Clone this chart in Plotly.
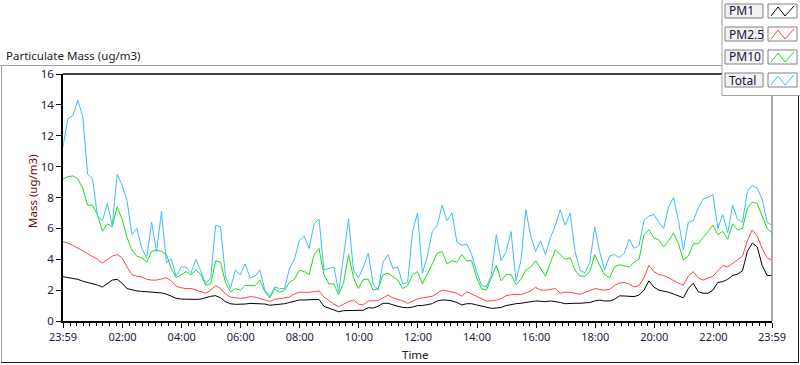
import pandas as pd
import plotly.graph_objects as go

# ---------------- data (10-minute readings, 23:59 -> 23:59) ----------------
pm1 = [2.87, 2.82, 2.76, 2.7, 2.58, 2.5, 2.42, 2.33, 2.2, 2.4, 2.65, 2.7, 2.45, 2.1, 2.0, 1.95, 1.92, 1.9, 1.88, 1.84,
       1.82, 1.74, 1.6, 1.47, 1.42, 1.4, 1.4, 1.4, 1.42, 1.52, 1.6, 1.64, 1.5, 1.25, 1.12, 1.08, 1.08,
       1.1, 1.14, 1.12, 1.14, 1.1, 1.02, 1.05, 1.12, 1.12, 1.2, 1.3, 1.36, 1.36, 1.36, 1.38, 1.4, 0.95, 0.82, 0.68,
       0.6, 0.67, 0.68, 0.69, 0.68, 0.7, 0.86, 0.84, 0.95, 1.15, 1.15, 1.04, 0.95, 0.88, 0.86, 0.9, 1.0,
       1.0, 1.08, 1.12, 1.3, 1.36, 1.35, 1.3, 1.2, 1.04, 1.12, 1.12, 1.04, 0.95, 0.88, 0.82, 0.84, 0.88, 1.0,
       1.08, 1.12, 1.15, 1.2, 1.25, 1.3, 1.28, 1.25, 1.3, 1.27, 1.2, 1.12, 1.15, 1.15, 1.15, 1.18, 1.2, 1.3,
       1.35, 1.3, 1.3, 1.4, 1.63, 1.62, 1.58, 1.58, 1.68, 2.0, 2.6, 2.2, 2.0, 1.95, 1.86, 1.75, 1.6, 1.5, 2.1,
       2.45, 1.9, 1.8, 1.8, 2.0, 2.5, 2.55, 2.7, 2.95, 3.03, 3.25, 4.5, 5.05, 4.8, 3.6, 2.95, 2.95]

pm25 = [5.14, 5.05, 4.9, 4.75, 4.55, 4.35, 4.2, 4.0, 3.75, 3.95, 4.2, 4.3, 4.1, 3.5, 3.0, 2.9, 2.85, 2.7, 2.65, 2.65,
        2.75, 2.8, 2.6, 2.25, 2.15, 2.1, 2.1, 2.0, 1.85, 1.8, 2.0, 2.3, 2.1, 1.75, 1.55, 1.5, 1.47,
        1.5, 1.58, 1.55, 1.47, 1.35, 1.27, 1.4, 1.47, 1.5, 1.55, 1.75, 1.86, 1.85, 1.86, 1.9, 1.95, 1.55, 1.3, 1.1,
        0.93, 1.1, 1.25, 1.36, 1.1, 1.04, 1.3, 1.3, 1.33, 1.5, 1.68, 1.5, 1.4, 1.3, 1.14, 1.3, 1.43,
        1.5, 1.55, 1.6, 1.8, 2.0, 1.95, 1.86, 1.8, 1.6, 1.9, 1.75, 1.6, 1.45, 1.3, 1.3, 1.35, 1.45, 1.64,
        1.7, 1.73, 1.7, 1.85, 1.95, 2.18, 2.0, 2.0, 2.05, 2.1, 1.8, 1.86, 1.86, 1.8, 1.73, 1.85, 2.0, 2.1,
        2.05, 2.0, 2.05, 2.3, 2.45, 2.5, 2.4, 2.2, 2.3, 2.8, 3.6, 3.2, 3.0, 2.95, 2.8, 2.6, 2.45, 2.33, 2.9,
        3.2, 2.8, 2.65, 2.75, 2.9, 3.25, 3.6, 3.5, 3.75, 4.0, 4.2, 5.2, 5.9, 5.5, 4.7, 4.1, 3.95]

pm10 = [9.2, 9.35, 9.4, 9.2, 8.6, 7.5, 7.5, 6.9, 5.8, 6.3, 6.1, 7.4, 6.6, 5.4, 4.6, 4.2, 4.1, 3.8, 4.5, 4.6,
        4.5, 4.3, 3.4, 2.8, 3.0, 3.2, 3.0, 3.3, 3.0, 2.3, 2.4, 3.9, 3.8, 2.5, 1.9, 2.1, 2.0,
        2.3, 2.3, 2.3, 2.65, 1.9, 1.5, 2.1, 1.85, 2.0, 2.5, 2.7, 3.3, 3.2, 3.0, 4.3, 4.7, 3.0, 2.4, 2.4,
        1.7, 2.5, 4.3, 2.8, 2.1, 2.7, 2.7, 2.0, 2.1, 3.0, 3.1, 2.9, 2.65, 2.1, 2.3, 3.0, 3.2,
        2.4, 3.0, 3.7, 4.4, 4.5, 3.7, 3.9, 3.8, 4.3, 3.9, 3.9, 2.8, 2.1, 2.0, 2.8, 3.6, 2.6, 3.0,
        3.0, 2.35, 2.7, 3.3, 3.5, 3.9, 3.4, 2.9, 3.8, 4.6, 4.3, 4.0, 4.1, 3.3, 2.9, 2.9, 3.2, 4.3,
        3.6, 3.0, 2.8, 3.5, 3.65, 3.6, 3.5, 3.8, 4.0, 5.6, 5.9, 5.4, 5.25, 4.8, 5.2, 5.7, 5.0, 3.95, 4.2,
        5.0, 5.0, 5.4, 5.8, 6.2, 5.6, 5.8, 5.3, 6.3, 5.9, 6.0, 7.3, 7.7, 7.6, 6.8, 6.0, 5.7]

total = [11.3, 13.1, 13.3, 14.3, 13.3, 9.5, 9.2, 6.8, 6.5, 7.6, 6.2, 9.5, 8.8, 7.8, 5.6, 6.0, 4.7, 4.1, 6.4, 4.5,
         7.1, 3.8, 4.0, 2.9, 3.5, 3.5, 3.1, 4.0, 3.2, 2.4, 2.8, 6.2, 6.1, 2.9, 2.1, 3.3, 3.0,
         3.7, 2.8, 2.9, 3.3, 2.0, 1.6, 2.2, 2.1, 2.1, 3.4, 4.0, 5.2, 5.5, 4.7, 6.3, 6.6, 3.3, 3.4, 3.5,
         1.9, 4.1, 6.6, 3.3, 2.8, 3.5, 4.4, 2.4, 2.0, 3.8, 4.3, 3.4, 3.5, 2.4, 2.5, 5.8, 7.0,
         3.1, 4.2, 5.8, 6.2, 7.5, 6.5, 7.0, 5.1, 4.9, 5.0, 4.3, 3.2, 2.3, 2.2, 3.0, 5.6, 3.9, 4.5,
         5.8, 2.6, 3.9, 7.2, 5.5, 4.5, 5.2, 4.3, 5.4, 6.2, 7.2, 6.2, 7.0, 4.5, 3.3, 3.1, 3.8, 6.1,
         4.5, 3.3, 4.2, 4.3, 4.1, 4.4, 5.3, 4.7, 4.9, 6.5, 6.8, 6.9, 6.4, 6.0, 7.4, 8.0, 6.5, 4.6, 6.4,
         6.5, 7.3, 7.9, 8.0, 8.2, 6.0, 6.9, 5.7, 7.5, 6.6, 6.4, 8.4, 8.8, 8.6, 7.9, 6.4, 6.2]

series_names = ["PM1", "PM2.5", "PM10", "Total"]
series_colors = ["#000000", "#ff4444", "#16e016", "#3dbcff"]
tick_labels = ["23:59", "02:00", "04:00", "06:00", "08:00", "10:00", "12:00",
               "14:00", "16:00", "18:00", "20:00", "22:00", "23:59"]

start = pd.Timestamp("2024-01-01 23:59")
end = pd.Timestamp("2024-01-02 23:59")
times = pd.date_range(start, periods=len(pm1), freq="10min")
tick_vals = [start] + [pd.Timestamp("2024-01-02") + pd.Timedelta(hours=h) for h in range(2, 24, 2)] + [end]

# ---------------- geometry helpers (pixel -> paper) ----------------
W, H = 800, 365
L, R, T, B = 63, 772, 74, 321
def px(x):
    return (x - L) / (R - L)
def py(y):
    return (B - y) / (B - T)

FONT = "Noto Sans, Open Sans, Arial, sans-serif"
TICKCOL = "#1a1a40"

fig = go.Figure()
for name, col, vals in zip(series_names, series_colors, [pm1, pm25, pm10, total]):
    fig.add_trace(go.Scatter(x=times, y=vals, mode="lines", name=name,
                             line=dict(color=col, width=1), showlegend=False))

shapes = []
def line(x0, y0, x1, y1, color, width=1):
    shapes.append(dict(type="line", xref="paper", yref="paper",
                       x0=px(x0), y0=py(y0), x1=px(x1), y1=py(y1),
                       line=dict(color=color, width=width), layer="above"))
def rect(x0, y0, x1, y1, fill, border, width=1):
    shapes.append(dict(type="rect", xref="paper", yref="paper",
                       x0=px(x0), y0=py(y0), x1=px(x1), y1=py(y1),
                       fillcolor=fill, line=dict(color=border, width=width), layer="above"))

# outer frame
line(0, 65.5, 722, 65.5, "#a0a0a0")
line(1.5, 65, 1.5, 363, "#a0a0a0")
line(1, 362.5, 799, 362.5, "#202020")
line(798.5, 95, 798.5, 363, "#202020")
# plot top and right borders
line(L, T, 722, T, "#000000", 1.5)
line(772, 95, 772, B, "#909090", 1.5)

# legend panel
rect(722, -2, 802, 95.5, "#ffffff", "#a0a0a0")
annotations = []
row_tops = [4, 27, 50, 73]
for name, col, top in zip(series_names, series_colors, row_tops):
    rect(725, top, 763, top + 14, "#f2f2f2", "#808080")
    rect(768, top, 797, top + 14, "#ffffff", "#808080")
    pts = [(771, top + 12), (778, top + 3), (785, top + 12), (794, top + 2)]
    path = "M " + " L ".join(f"{px(a)},{py(b)}" for a, b in pts)
    shapes.append(dict(type="path", xref="paper", yref="paper", path=path,
                       line=dict(color=col, width=1), layer="above"))
    annotations.append(dict(xref="paper", yref="paper", x=px(727), y=py(top + 7),
                            xanchor="left", yanchor="middle", showarrow=False,
                            text=name, font=dict(family=FONT, size=12, color="#14143c")))

annotations.append(dict(xref="paper", yref="paper", x=px(4), y=py(55),
                        xanchor="left", yanchor="middle", showarrow=False,
                        text="Particulate Mass (ug/m3)",
                        font=dict(family=FONT, size=11.5, color="#202020")))
annotations.append(dict(xref="paper", yref="paper", x=px(32), y=py(191),
                        xanchor="center", yanchor="middle", showarrow=False, textangle=-90,
                        text="Mass (ug/m3)", font=dict(family=FONT, size=11.5, color="#6a0a0a")))
annotations.append(dict(xref="paper", yref="paper", x=px(415), y=py(354),
                        xanchor="center", yanchor="middle", showarrow=False,
                        text="Time", font=dict(family=FONT, size=11.5, color="#202020")))

fig.update_layout(
    width=W, height=H,
    margin=dict(l=L, r=W - R, t=T, b=H - B, pad=0),
    paper_bgcolor="white", plot_bgcolor="white",
    shapes=shapes, annotations=annotations,
    xaxis=dict(type="date", range=[start, end], tickmode="array",
               tickvals=tick_vals, ticktext=tick_labels,
               showgrid=False, zeroline=False, showline=True, linecolor="black", linewidth=1.5,
               ticks="outside", ticklen=5, tickcolor="black", tickwidth=1,
               tickfont=dict(family=FONT, size=11, color=TICKCOL),
               minor=dict(ticks="outside", ticklen=3, tickcolor="black", tickwidth=1,
                          dtick=800000, tick0="2024-01-02 02:00", showgrid=False)),
    yaxis=dict(range=[0, 16], tickmode="array", tickvals=list(range(0, 17, 2)),
               showgrid=False, zeroline=False, showline=True, linecolor="black", linewidth=1.5,
               ticks="outside", ticklen=5, tickcolor="black", tickwidth=1,
               tickfont=dict(family=FONT, size=11.5, color=TICKCOL)),
)

fig.write_html("out.html", config={"displayModeBar": False},
               post_script="document.body.style.margin='0';document.body.style.overflow='hidden';")
